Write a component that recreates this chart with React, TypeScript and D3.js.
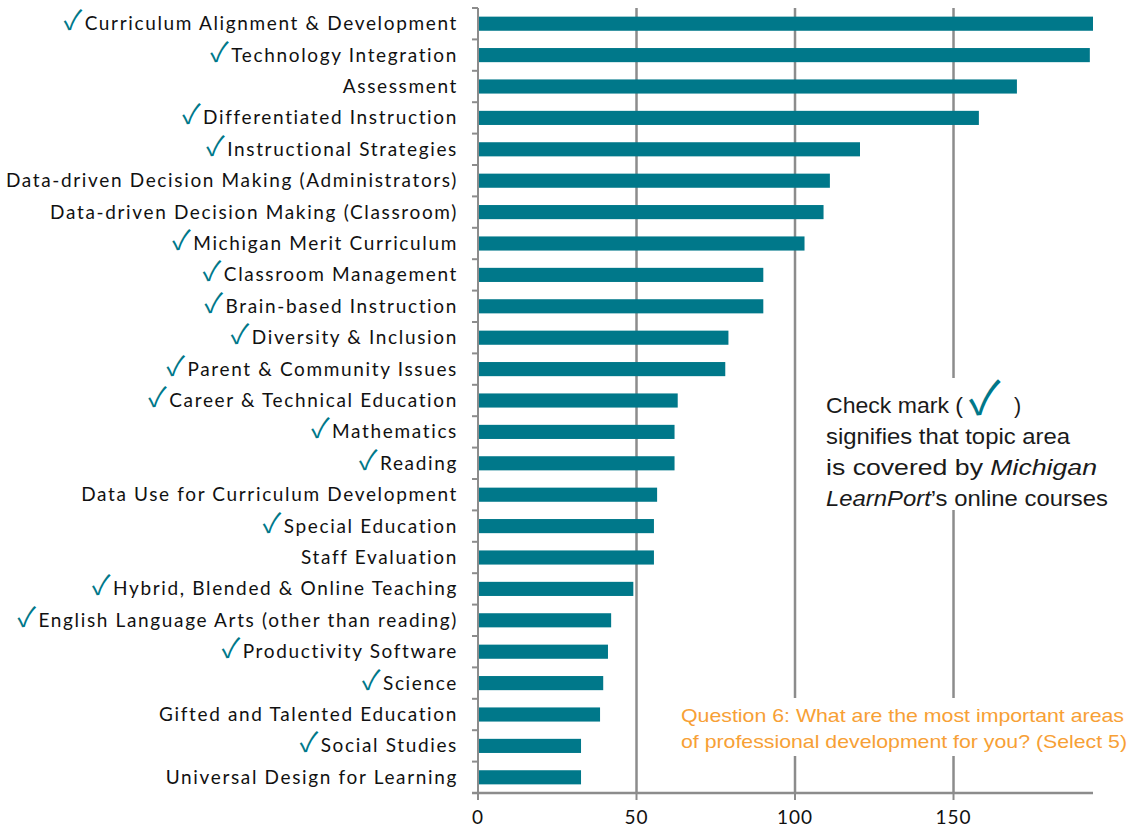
import React from "react";
import * as d3 from "d3";

const categories = [
  "Curriculum Alignment & Development",
  "Technology Integration",
  "Assessment",
  "Differentiated Instruction",
  "Instructional Strategies",
  "Data-driven Decision Making (Administrators)",
  "Data-driven Decision Making (Classroom)",
  "Michigan Merit Curriculum",
  "Classroom Management",
  "Brain-based Instruction",
  "Diversity & Inclusion",
  "Parent & Community Issues",
  "Career & Technical Education",
  "Mathematics",
  "Reading",
  "Data Use for Curriculum Development",
  "Special Education",
  "Staff Evaluation",
  "Hybrid, Blended & Online Teaching",
  "English Language Arts (other than reading)",
  "Productivity Software",
  "Science",
  "Gifted and Talented Education",
  "Social Studies",
  "Universal Design for Learning",
];
const values = [194, 193, 170, 158, 120.5, 111, 109, 103, 90, 90, 79, 78, 63, 62, 62, 56.5, 55.5, 55.5, 49, 42, 41, 39.5, 38.5, 32.5, 32.5];
const covered = [true, true, false, true, true, false, false, true, true, true, true, true, true, true, true, false, true, false, true, true, true, true, false, true, false];
const xTicks = [0, 50, 100, 150];
const noteLines = ["signifies that topic area"];
const questionLines = [
  "Question 6: What are the most important areas",
  "of professional development for you? (Select 5)",
];

const W = 1128;
const H = 827;
const TEAL = "#00788a";
const GRID = "#8c8c8c";
const LABEL_FONT = "Lato, 'Open Sans', sans-serif";
const NOTE_FONT = "'Liberation Sans', Arial, sans-serif";
const CHECK_FONT = "'Noto Sans CJK JP', 'DejaVu Sans', sans-serif";

export default function App() {
  const x = d3.scaleLinear().domain([0, 194]).range([478, 1093]);
  const y = d3
    .scaleBand<string>()
    .domain(categories)
    .range([8, 793])
    .paddingInner(0.55)
    .paddingOuter(0.275);
  const step = y.step();
  const axisY = 793;
  const boundaries = d3.range(categories.length + 1).map((i) => 8 + i * step);

  return (
    <svg width={W} height={H} style={{ position: "absolute", left: 0, top: 0, background: "#fff" }}>
      {/* gridlines */}
      {xTicks.filter((t) => t > 0).map((t) => (
        <line key={"g" + t} x1={x(t)} x2={x(t)} y1={8} y2={axisY} stroke={GRID} strokeWidth={2.5} />
      ))}
      {/* bars */}
      {categories.map((c, i) => (
        <rect key={c} x={x(0)} y={y(c)!} width={x(values[i]) - x(0)} height={y.bandwidth()} fill={TEAL} />
      ))}
      {/* left axis */}
      <line x1={x(0)} x2={x(0)} y1={8} y2={axisY + 7} stroke={GRID} strokeWidth={2} />
      {boundaries.map((b, i) => (
        <line key={"lt" + i} x1={x(0) - 6} x2={x(0)} y1={b} y2={b} stroke={GRID} strokeWidth={2} />
      ))}
      {/* bottom axis */}
      <line x1={x(0) - 6} x2={x(194)} y1={axisY} y2={axisY} stroke={GRID} strokeWidth={2.5} />
      {xTicks.map((t) => (
        <g key={"xt" + t}>
          <line x1={x(t)} x2={x(t)} y1={axisY} y2={axisY + 7} stroke={GRID} strokeWidth={2} />
          <text x={x(t)} y={axisY + 31} textAnchor="middle" fontFamily={LABEL_FONT} fontSize={19} letterSpacing={1} fill="#111">
            {t}
          </text>
        </g>
      ))}
      {/* category labels */}
      {categories.map((c, i) => (
        <text
          key={"l" + c}
          x={458}
          y={y(c)! + y.bandwidth() / 2 + 6.5}
          textAnchor="end"
          fontFamily={LABEL_FONT}
          fontSize={19}
          fill="#111"
        >
          {covered[i] ? (
            <tspan fill={TEAL} fontFamily={CHECK_FONT} fontSize={27}>
              {"\u2713"}
            </tspan>
          ) : null}
          <tspan letterSpacing={1.65} dx={covered[i] ? 2.5 : 0}>{c}</tspan>
        </text>
      ))}
      {/* note box */}
      <rect x={818} y={378} width={295} height={132} fill="#fff" />
      <text x={826} y={413} fontFamily={NOTE_FONT} fontSize={21.5} fill="#1a1a1a" textLength={137} lengthAdjust="spacingAndGlyphs">
        {"Check mark ("}
      </text>
      <text x={969} y={414} fontFamily={CHECK_FONT} fontSize={46} fill={TEAL}>
        {"\u2713"}
      </text>
      <text x={1014} y={413} fontFamily={NOTE_FONT} fontSize={21.5} fill="#1a1a1a">
        {")"}
      </text>
      <text x={826} y={444} fontFamily={NOTE_FONT} fontSize={21.5} fill="#1a1a1a" textLength={244} lengthAdjust="spacingAndGlyphs">
        {noteLines[0]}
      </text>
      <text x={826} y={475} fontFamily={NOTE_FONT} fontSize={21.5} fill="#1a1a1a" textLength={271} lengthAdjust="spacingAndGlyphs">
        {"is covered by "}
        <tspan fontStyle="italic">Michigan</tspan>
      </text>
      <text x={826} y={506} fontFamily={NOTE_FONT} fontSize={21.5} fill="#1a1a1a" textLength={282} lengthAdjust="spacingAndGlyphs">
        <tspan fontStyle="italic">LearnPort</tspan>
        {"\u2019s online courses"}
      </text>
      {/* question box */}
      <rect x={676} y={698} width={452} height={58} fill="#fff" />
      {questionLines.map((q, i) => (
        <text
          key={q}
          x={681}
          y={722 + i * 26}
          fontFamily={NOTE_FONT}
          fontSize={19}
          fill="#f7a035"
          textLength={i === 0 ? 443 : 446}
          lengthAdjust="spacingAndGlyphs"
        >
          {q}
        </text>
      ))}
    </svg>
  );
}
